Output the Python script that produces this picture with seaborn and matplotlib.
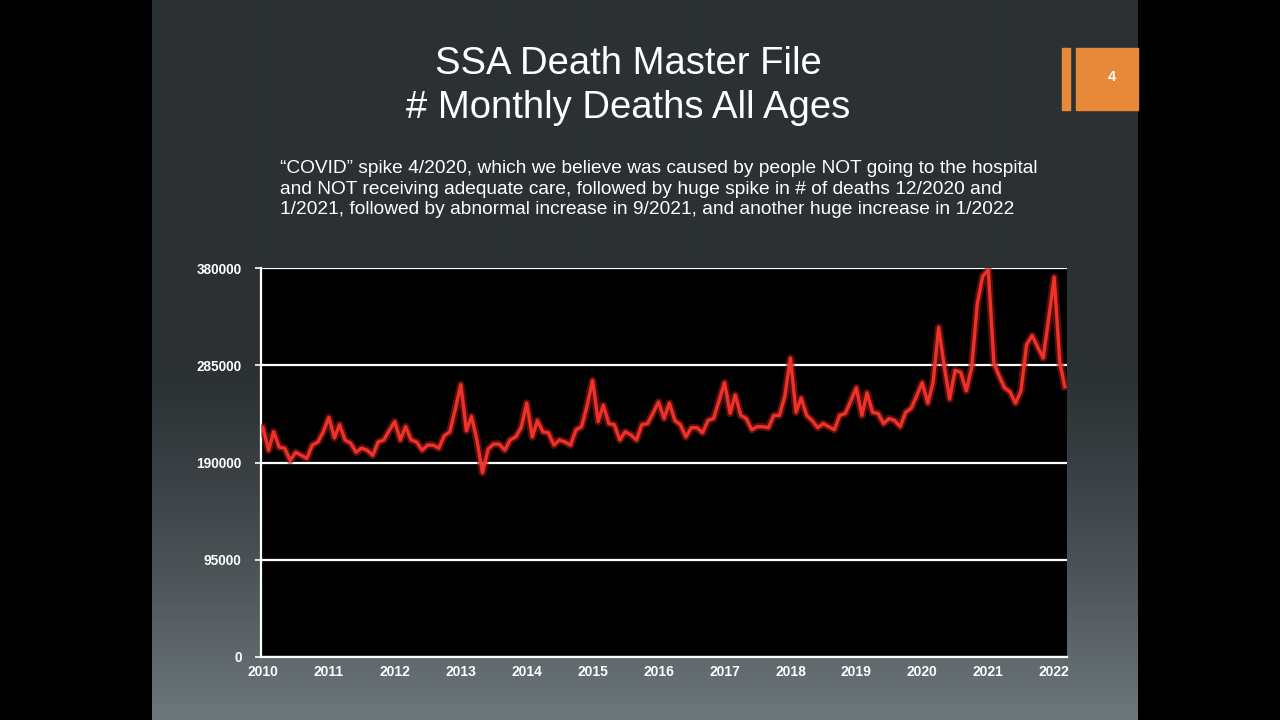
import numpy as np
import pandas as pd
import matplotlib
matplotlib.use("Agg")
import matplotlib.pyplot as plt
from matplotlib.patches import Rectangle
import seaborn as sns

# Monthly deaths (thousands)
deaths_2010 = [224, 202, 220, 205, 204, 192, 200, 197, 194, 207, 210, 220]
deaths_2011 = [234, 214, 227, 212, 209, 200, 204, 202, 197, 210, 212, 221]
deaths_2012 = [230, 212, 225, 212, 210, 202, 207, 207, 204, 216, 220, 242]
deaths_2013 = [266, 221, 235, 211, 180, 203, 208, 208, 202, 212, 215, 224]
deaths_2014 = [248, 215, 231, 220, 219, 207, 212, 210, 207, 222, 225, 245]
deaths_2015 = [270, 230, 246, 228, 227, 212, 220, 217, 212, 227, 228, 238]
deaths_2016 = [249, 233, 248, 231, 227, 215, 224, 224, 219, 231, 233, 250]
deaths_2017 = [268, 238, 256, 236, 233, 222, 225, 225, 224, 236, 236, 255]
deaths_2018 = [292, 239, 253, 236, 231, 224, 228, 225, 222, 236, 238, 250]
deaths_2019 = [263, 236, 258, 239, 238, 228, 233, 231, 225, 239, 243, 255]
deaths_2020 = [268, 248, 268, 322, 285, 252, 280, 278, 260, 283, 345, 372]
deaths_2021 = [378, 287, 275, 263, 259, 248, 260, 305, 314, 303, 292, 330]
deaths_2022 = [371, 288, 264]

y_ticks = [0, 95000, 190000, 285000, 380000]
x_years = list(range(2010, 2023))

title = "SSA Death Master File\n# Monthly Deaths All Ages"
subtitle = ("\u201cCOVID\u201d spike 4/2020, which we believe was caused by people NOT going to the hospital\n"
            "and NOT receiving adequate care, followed by huge spike in # of deaths 12/2020 and\n"
            "1/2021, followed by abnormal increase in 9/2021, and another huge increase in 1/2022")

all_vals = (deaths_2010 + deaths_2011 + deaths_2012 + deaths_2013 + deaths_2014 +
            deaths_2015 + deaths_2016 + deaths_2017 + deaths_2018 + deaths_2019 +
            deaths_2020 + deaths_2021 + deaths_2022)
df = pd.DataFrame({
    "month": pd.date_range("2010-01-01", periods=len(all_vals), freq="MS"),
    "deaths": np.array(all_vals) * 1000,
})

W, H = 1280, 720
fig = plt.figure(figsize=(12.8, 7.2), dpi=100, facecolor="black")

# slide background with vertical gradient
bg = fig.add_axes([152 / W, 0, 986 / W, 1])
t = np.linspace(0, 1, 300)
dark = np.array([0x2b, 0x30, 0x33]) / 255
light = np.array([0x6e, 0x78, 0x7c]) / 255
mix = np.clip((t - 0.5) / 0.5, 0, 1) ** 1.3
grad = dark[None, :] * (1 - mix[:, None]) + light[None, :] * mix[:, None]
bg.imshow(grad[:, None, :], aspect="auto", extent=[0, 1, 0, 1])
bg.axis("off")

# orange page marker
fig.patches.append(Rectangle((1062 / W, 1 - 110 / H), 8 / W, 62 / H,
                             transform=fig.transFigure, color="#e8893a", zorder=3))
fig.patches.append(Rectangle((1076 / W, 1 - 110 / H), 62 / W, 62 / H,
                             transform=fig.transFigure, color="#e8893a", zorder=3))
fig.text(1112 / W, 1 - 77 / H, "4", color="white", fontsize=10.5, fontweight="bold",
         ha="center", va="center", family="Liberation Sans", zorder=4)

fig.text(628 / W, 1 - 86 / H, title, color="white", fontsize=27.5, ha="center",
         va="center", family="Liberation Sans", linespacing=1.25)
fig.text(280 / W, 1 - 189 / H, subtitle, color="white", fontsize=13.8, ha="left",
         va="center", family="Liberation Sans", linespacing=1.3)

ax = fig.add_axes([261 / W, 1 - 657 / H, 806 / W, 389 / H])
ax.set_facecolor("black")

# glow under the line
sns.lineplot(data=df, x="month", y="deaths", ax=ax, color="#a01c16",
             linewidth=5.5, alpha=0.55, zorder=3)
sns.lineplot(data=df, x="month", y="deaths", ax=ax, color="#ee3229",
             linewidth=2.4, zorder=4)

ax.set_ylim(0, 380000)
ax.set_xlim(pd.Timestamp("2009-12-21"), pd.Timestamp("2022-03-13"))
ax.set_yticks(y_ticks)
ax.set_yticklabels([str(v) for v in y_ticks])
ax.set_xticks([pd.Timestamp(f"{y}-01-01") for y in x_years])
ax.set_xticklabels([str(y) for y in x_years])
ax.grid(axis="y", color="white", linewidth=1.6, zorder=1)
ax.grid(axis="x", visible=False)
ax.set_axisbelow(True)
for s in ["top", "right"]:
    ax.spines[s].set_visible(False)
for s in ["left", "bottom"]:
    ax.spines[s].set_color("white")
    ax.spines[s].set_linewidth(1.6)
ax.tick_params(axis="y", colors="white", length=4, width=1.2, labelsize=9.8, pad=10)
ax.tick_params(axis="x", colors="white", length=0, labelsize=10, pad=6)
for lab in ax.get_xticklabels() + ax.get_yticklabels():
    lab.set_fontweight("bold")
    lab.set_family("Liberation Sans")
ax.set_xlabel("")
ax.set_ylabel("")

fig.savefig("out.png", dpi=100, facecolor="black")
